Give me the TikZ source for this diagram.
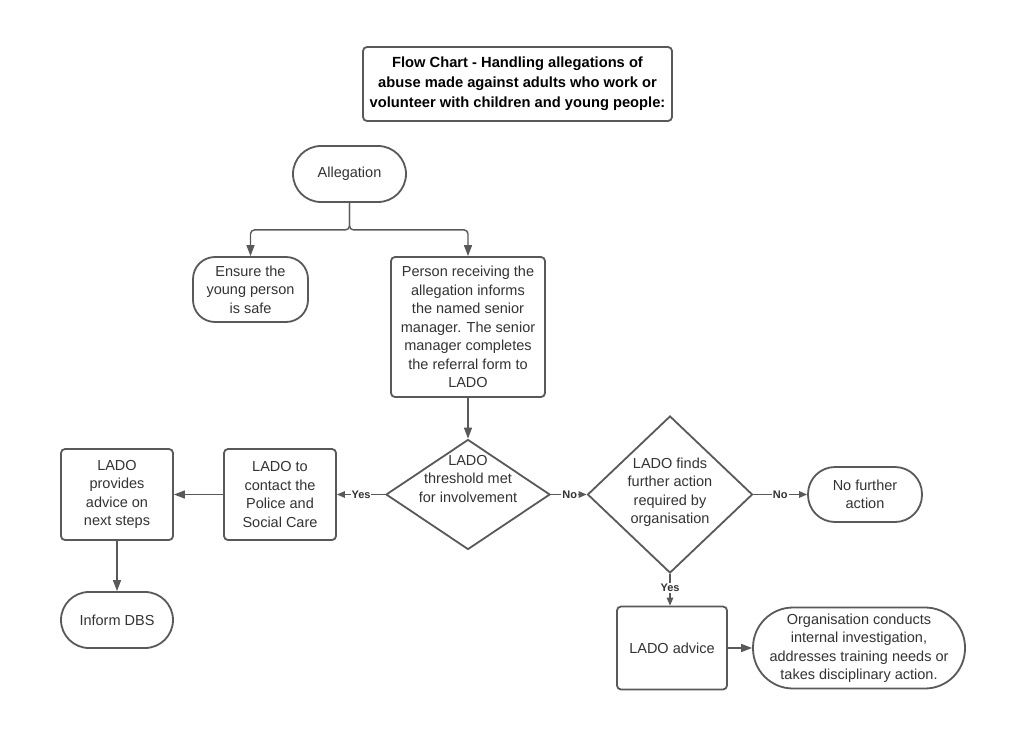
\documentclass[tikz,border=0pt]{standalone}
\usepackage{fontspec}
\setmainfont{Liberation Sans}
\usetikzlibrary{arrows.meta,shapes.geometric}
\definecolor{linec}{HTML}{595959}
\definecolor{textc}{HTML}{333333}
\tikzset{
  base/.style={draw=linec, line width=1.8pt, text=textc, align=center, inner sep=0pt,
    font=\fontsize{14.5}{18.5}\selectfont},
  procbox/.style={base, rectangle, rounded corners=4pt},
  termbox/.style={base, rectangle},
  decbox/.style={draw=linec, line width=1.8pt, diamond, inner sep=0pt},
  dtext/.style={text=textc, align=center, inner sep=0pt, font=\fontsize{14.5}{18.5}\selectfont},
  arr/.style={draw=linec, line width=1.4pt, -{Triangle[length=11pt,width=8pt]}},
  sarr/.style={draw=linec, line width=1.4pt, -{Triangle[length=8pt,width=6.5pt]}},
  lbl/.style={fill=white, text=textc, inner sep=1pt, font=\fontsize{11}{12}\bfseries\selectfont}
}
\begin{document}
\begin{tikzpicture}[x=1pt,y=-1pt]
\useasboundingbox[fill=white] (0,0) rectangle (1024,738);

\node[procbox, minimum width=309pt, minimum height=74pt,
  font=\fontsize{14.7}{20}\bfseries\selectfont, text=black] (title) at (517.5,84)
  {Flow Chart - Handling allegations of\\abuse made against adults who work or\\volunteer with children and young people:};

\node[termbox, rounded corners=28pt, minimum width=113pt, minimum height=56pt] (alleg) at (349.5,174) {Allegation};

\node[termbox, rounded corners=22pt, minimum width=115pt, minimum height=65pt] (ensure) at (250.5,289.5)
  {Ensure the\\young person\\is safe};

\node[procbox, minimum width=154pt, minimum height=140pt] (person) at (468,327)
  {Person receiving the\\allegation informs\\the named senior\\manager. The senior\\manager completes\\the referral form to\\LADO};

\node[decbox, minimum width=164pt, minimum height=110pt] (d1) at (468,494.5) {};
\node[dtext] (d1t) at (468,479) {LADO\\threshold met\\for involvement};

\node[decbox, minimum width=165pt, minimum height=157pt] (d2) at (670,494.5) {};
\node[dtext] (d2t) at (670,492) {LADO finds\\further action\\required by\\organisation};

\node[procbox, minimum width=112pt, minimum height=91pt] (contact) at (280,494.5)
  {LADO to\\contact the\\Police and\\Social Care};

\node[procbox, minimum width=112pt, minimum height=91pt] (provides) at (117,494.5)
  {LADO\\provides\\advice on\\next steps};

\node[termbox, rounded corners=28pt, minimum width=112pt, minimum height=56pt] (dbs) at (117,620) {Inform DBS};

\node[termbox, rounded corners=27pt, minimum width=114pt, minimum height=55pt] (nofa) at (865,494.5)
  {No further\\action};

\node[procbox, minimum width=110pt, minimum height=83pt] (advice) at (672,648) {LADO advice};

\node[termbox, rounded corners=40pt, minimum width=212pt, minimum height=81pt] (org) at (859,648)
  {Organisation conducts\\internal investigation,\\addresses training needs or\\takes disciplinary action.};

\draw[arr, rounded corners=4pt] (alleg.south) -- ++(0,27) -| (ensure.north);
\draw[arr, rounded corners=4pt] (alleg.south) -- ++(0,27) -| (person.north);
\draw[arr] (person.south) -- (d1.north);
\draw[sarr] (d1.west) -- node[lbl, pos=0.5] {Yes} (contact.east);
\draw[arr] (contact.west) -- (provides.east);
\draw[arr] (provides.south) -- (dbs.north);
\draw[sarr] (d1.east) -- node[lbl, pos=0.53] {No} (d2.west);
\draw[sarr] (d2.east) -- node[lbl, pos=0.5] {No} (nofa.west);
\draw[sarr] (d2.south) -- node[lbl, pos=0.44] {Yes} (d2.south |- advice.north);
\draw[arr] (advice.east) -- (org.west);
\end{tikzpicture}
\end{document}
